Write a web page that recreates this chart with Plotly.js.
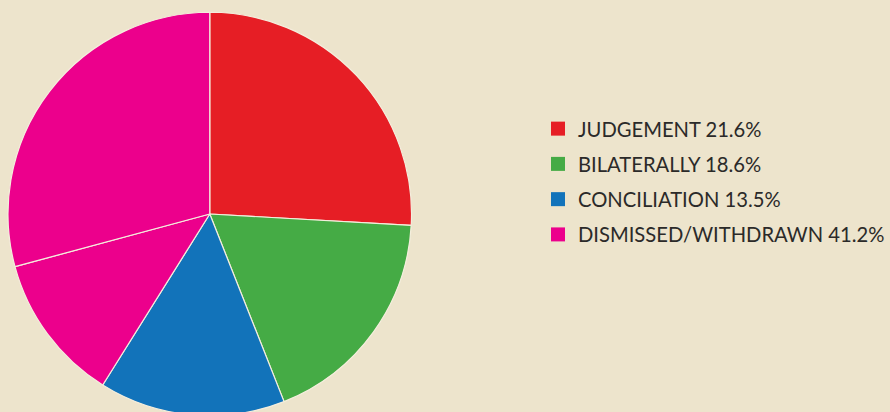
<!DOCTYPE html>
<html>
<head>
<meta charset="utf-8">
<script src="https://cdn.plot.ly/plotly-3.0.1.min.js"></script>
<style>
html, body { margin: 0; padding: 0; overflow: hidden; background: #EDE4CC; }
#chart { width: 890px; height: 420px; }
</style>
</head>
<body>
<div id="chart"></div>
<script>
// Slice shares as drawn in the picture (percent of the circle)
const sliceLabels = ["JUDGEMENT", "BILATERALLY", "CONCILIATION", "DISMISSED", "WITHDRAWN"];
const sliceValues = [25.9, 18.1, 14.9, 11.9, 29.2];
const sliceColors = ["#E61E25", "#45AB45", "#1273BA", "#EC008C", "#EC008C"];

// Legend entries as printed
const legendLabels = ["JUDGEMENT 21.6%", "BILATERALLY 18.6%", "CONCILIATION 13.5%", "DISMISSED/WITHDRAWN 41.2%"];
const legendColors = ["#E61E25", "#45AB45", "#1273BA", "#EC008C"];

const W = 890, H = 420;
const cx = 210, cy = 214, r = 202;

const traces = [{
  type: "pie",
  labels: sliceLabels,
  values: sliceValues,
  sort: false,
  direction: "clockwise",
  rotation: 0,
  textinfo: "none",
  hoverinfo: "label+percent",
  showlegend: false,
  marker: { colors: sliceColors, line: { color: "#F4EEDD", width: 1.2 } },
  domain: { x: [(cx - r) / W, (cx + r) / W], y: [(H - cy - r) / H, (H - cy + r) / H] }
}];

legendLabels.forEach((lab, i) => {
  traces.push({
    type: "scatter",
    mode: "markers",
    x: [null], y: [null],
    name: lab,
    legendgroup: "g" + i,
    marker: { symbol: "square", size: 14, color: legendColors[i] },
    hoverinfo: "skip"
  });
});

const layout = {
  width: W, height: H,
  margin: { l: 0, r: 0, t: 0, b: 0 },
  paper_bgcolor: "#EDE4CC",
  plot_bgcolor: "#EDE4CC",
  xaxis: { visible: false },
  yaxis: { visible: false },
  showlegend: true,
  legend: {
    x: 538.5 / W, y: 1 - 109 / H, xanchor: "left", yanchor: "top",
    traceorder: "grouped", tracegroupgap: 6,
    bgcolor: "rgba(0,0,0,0)",
    font: { family: "Lato, 'DejaVu Sans', sans-serif", size: 20.2, color: "#2B2A29" }
  }
};

Plotly.newPlot("chart", traces, layout, { displayModeBar: false, staticPlot: true });
</script>
</body>
</html>
